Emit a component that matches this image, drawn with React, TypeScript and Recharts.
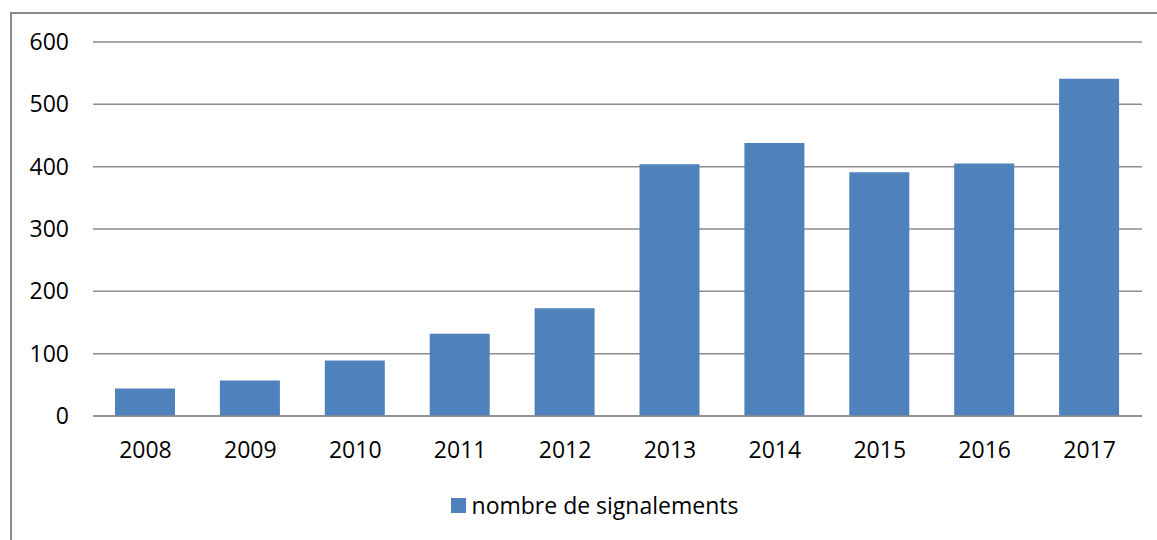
import { FC } from "react";
import { BarChart, Bar, XAxis, YAxis, CartesianGrid, Legend } from "recharts";

// années et nombre de signalements
const years = ["2008", "2009", "2010", "2011", "2012", "2013", "2014", "2015", "2016", "2017"];
const signalements = [44, 57, 89, 132, 173, 404, 438, 391, 405, 541];
const yTicks = [0, 100, 200, 300, 400, 500, 600];

const seriesName = "nombre de signalements";
const barColor = "#4f81bd";
const fontFamily = "'Open Sans', sans-serif";

const data = years.map((year, i) => ({ year, value: signalements[i] }));

// légende simple : carré bleu + texte
const LegendContent: FC = () => (
    <div style={{ display: "flex", justifyContent: "center", alignItems: "center", fontFamily, fontSize: 23, color: "#000", paddingLeft: 32 }}>
        <span style={{ width: 15, height: 15, background: barColor, display: "inline-block", marginRight: 6 }} />
        <span>{seriesName}</span>
    </div>
);

const App: FC = () => {
    return (
        <div style={{ position: "fixed", left: 0, top: 0, width: 1157, height: 540, overflow: "hidden", background: "#fff" }}>
            <div style={{ position: "absolute", left: 10, top: 12, width: 1200, height: 600, border: "2px solid #8a8a8a" }} />
            <div style={{ position: "absolute", left: 0, top: 0 }}>
                <BarChart width={1157} height={540} data={data} margin={{ top: 42, right: 15, left: 0, bottom: 0 }}>
                    <CartesianGrid vertical={false} stroke="#8c8c8c" strokeWidth={1.5} />
                    <XAxis
                        dataKey="year"
                        height={84}
                        tickLine={false}
                        tickSize={0}
                        tickMargin={26}
                        axisLine={{ stroke: "#8c8c8c", strokeWidth: 1.5 }}
                        tick={{ fill: "#000", fontSize: 23, fontFamily }}
                    />
                    <YAxis
                        width={93}
                        domain={[0, 600]}
                        ticks={yTicks}
                        interval={0}
                        tickLine={false}
                        tickSize={0}
                        tickMargin={24}
                        axisLine={false}
                        tick={{ fill: "#000", fontSize: 23, fontFamily }}
                    />
                    <Legend
                        verticalAlign="bottom"
                        height={40}
                        content={<LegendContent />}
                        wrapperStyle={{ top: 489, bottom: "auto", left: 0, width: 1157 }}
                    />
                    <Bar dataKey="value" name={seriesName} fill={barColor} barSize={60} isAnimationActive={false} />
                </BarChart>
            </div>
        </div>
    );
};

export default App;
